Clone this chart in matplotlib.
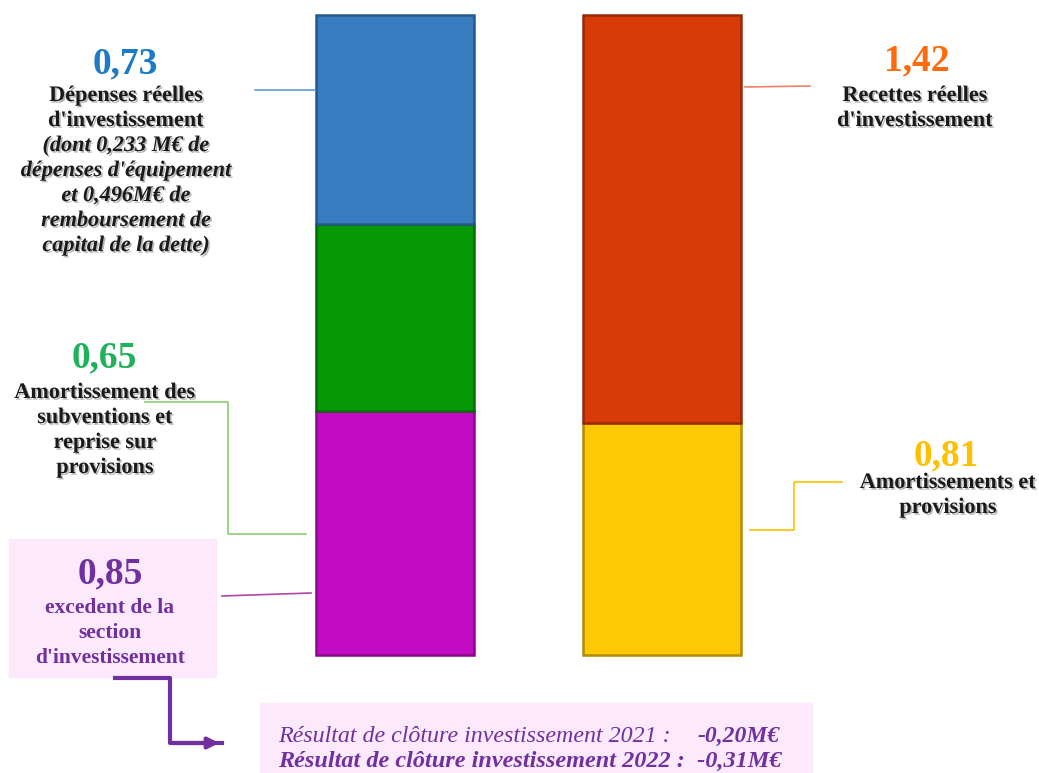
import matplotlib
matplotlib.use("Agg")
import matplotlib.pyplot as plt
import matplotlib.patheffects as pe
from matplotlib.patches import Rectangle, FancyArrowPatch
from matplotlib.colors import to_rgb
import numpy as np

# two stacked columns (M€): left = emplois, right = ressources
columns = ["Dépenses", "Recettes"]
left_parts = ["Excédent", "Amortissement subventions", "Dépenses réelles"]
left_values = [0.85, 0.65, 0.73]
left_colors = ["#C40BC4", "#069906", "#387CC0"]
right_parts = ["Amortissements", "Recettes réelles"]
right_values = [0.81, 1.42]
right_colors = ["#FDC806", "#D83A08"]
result_2021 = "-0,20M€"
result_2022 = "-0,31M€"

W, H = 1039, 773
fig = plt.figure(figsize=(W / 100, H / 100), dpi=100)
ax = fig.add_axes([0, 0, 1, 1])
ax.set_xlim(-1.479, 2.412)
ax.set_ylim(-0.411, 2.282)
ax.axis("off")


def darker(c, f=0.7):
    return tuple(v * f for v in to_rgb(c))


def stack(xpos, values, colors):
    bottoms = np.concatenate([[0], np.cumsum(values)[:-1]])
    for v, b, c in zip(values, bottoms, colors):
        ax.bar(xpos, v, bottom=b, width=0.592, color=c, edgecolor=darker(c),
               linewidth=1.8, zorder=3)


stack(0, left_values, left_colors)
stack(1, right_values, right_colors)


def fx(x):
    return x / W


def fy(y):
    return 1 - y / H


serif = "Liberation Serif"
shadow = [pe.withSimplePatchShadow(offset=(1.2, -1.2), alpha=0.3)]


def fmt(v):
    return f"{v:.2f}".replace(".", ",")


def lines(x, y0, rows, size, color="#1a1a1a", style="normal", weight="bold",
          ha="center", effects=None, step=25):
    # one text per row, y0 = baseline of first row in pixels
    for i, s in enumerate(rows):
        fig.text(fx(x), fy(y0 + i * step), s, ha=ha, va="baseline",
                 fontsize=size, color=color, family=serif, fontweight=weight,
                 fontstyle=style, path_effects=effects)


def line(xs, ys, color, lw=1.2, arrow=False):
    X = [fx(x) for x in xs]
    Y = [fy(y) for y in ys]
    fig.add_artist(plt.Line2D(X, Y, color=color, lw=lw, transform=fig.transFigure))
    if arrow:
        fig.add_artist(FancyArrowPatch(
            (X[-2], Y[-2]), (X[-1], Y[-1]), transform=fig.transFigure,
            arrowstyle="-|>", mutation_scale=16, color=color, lw=lw))


# pink boxes
fig.add_artist(Rectangle((fx(9), fy(677)), fx(207), 138 / H,
               transform=fig.transFigure, color="#FCE9FC", zorder=0))
fig.add_artist(Rectangle((fx(260), fy(773)), fx(552), 70 / H,
               transform=fig.transFigure, color="#FCE9FC", zorder=0))

# left column labels
lines(125, 73, [fmt(left_values[2])], 27, color="#1C7AC6")
lines(126, 101, ["Dépenses réelles", "d'investissement"], 16, effects=shadow)
lines(126, 151, ["(dont 0,233 M€ de", "dépenses d'équipement", "et 0,496M€ de",
                 "remboursement de", "capital de la dette)"],
      16, style="italic", effects=shadow)
lines(104, 367, [fmt(left_values[1])], 27, color="#1FB25A")
lines(105, 398, ["Amortissement des", "subventions et", "reprise sur", "provisions"],
      16, effects=shadow)
lines(110, 583, [fmt(left_values[0])], 27, color="#7030A0")
lines(110, 613, ["excedent de la", "section", "d'investissement"], 15.5,
      color="#7030A0")

# right column labels
lines(917, 70, [fmt(right_values[1])], 27, color="#FF6A0A")
lines(915, 101, ["Recettes réelles", "d'investissement"], 16, effects=shadow)
lines(946, 465, [fmt(right_values[0])], 27, color="#FFC000")
lines(948, 488, ["Amortissements et", "provisions"], 16, effects=shadow)

# bottom result box
lines(278, 742, ["Résultat de clôture investissement 2021 :"], 17.3, color="#7030A0",
      style="italic", weight="normal", ha="left")
lines(698, 742, [result_2021], 17, color="#7030A0", style="italic", ha="left")
lines(278, 767, ["Résultat de clôture investissement 2022 :  " + result_2022], 17.5,
      color="#7030A0", style="italic", ha="left")

# connectors
line([255, 315], [90, 90], "#5B9BD5")
line([145, 228, 228, 306], [402, 402, 534, 534], "#8CCB6F")
line([222, 311], [596, 593], "#B044A8")
line([745, 810], [87, 86], "#F0806A")
line([750, 794, 794, 842], [530, 530, 482, 482], "#FFC000")
line([115, 170, 170, 222], [678, 678, 743, 743], "#7030A0", lw=3, arrow=True)

fig.savefig("out.png", dpi=100)
